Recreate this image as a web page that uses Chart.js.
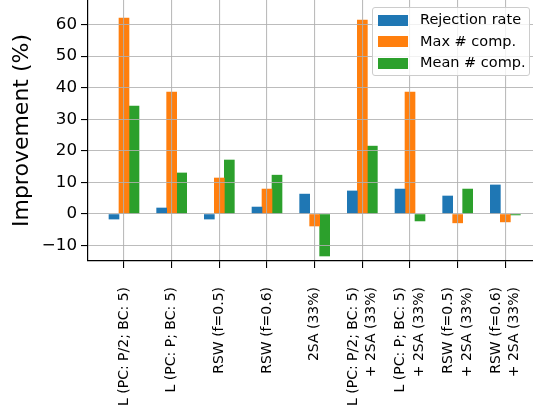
<!DOCTYPE html>
<html>
<head>
<meta charset="utf-8">
<script src="https://cdn.jsdelivr.net/npm/chart.js@4"></script>
<style>
body{margin:0;background:#fff;}
#wrap{position:relative;width:533px;height:415px;}
#legend{position:absolute;left:372px;top:7px;width:156px;height:67px;background:rgba(255,255,255,0.8);border:1px solid #cccccc;border-radius:3px;font-family:"DejaVu Sans";font-size:14.5px;color:#000;}
.item{position:absolute;left:5px;height:22px;line-height:22px;white-space:nowrap;}
.sw{display:inline-block;width:30px;height:11px;vertical-align:middle;margin-right:12px;}
</style>
</head>
<body>
<div id="wrap">
<canvas id="chart"></canvas>
<div id="legend"></div>
</div>
<script>
const categories = [
'L (PC: P/2; BC: 5)',
'L (PC: P; BC: 5)',
'RSW (f=0.5)',
'RSW (f=0.6)',
'2SA (33%)',
'L (PC: P/2; BC: 5)\n+ 2SA (33%)',
'L (PC: P; BC: 5)\n+ 2SA (33%)',
'RSW (f=0.5)\n+ 2SA (33%)',
'RSW (f=0.6)\n+ 2SA (33%)'
];

const seriesNames = ['Rejection rate','Max # comp.','Mean # comp.'];
const rejectionRate = [-1.6, 1.9, -1.6, 2.2, 6.3, 7.3, 7.9, 5.7, 9.2];
const maxComp = [62.1, 38.6, 11.4, 7.9, -3.8, 61.4, 38.6, -2.8, -2.5];
const meanComp = [34.2, 13.0, 17.1, 12.3, -13.3, 21.5, -2.2, 7.9, -0.3];
const yTicks = [-10, 0, 10, 20, 30, 40, 50, 60];

const colors = ['#1f77b4','#ff7f0e','#2ca02c'];
const font = '"DejaVu Sans"';

function points(vals){
return vals.map((v,i) => ({x:i, y:v}));
}

const allSeries = [rejectionRate, maxComp, meanComp];

const datasets = allSeries.map((vals,k) => ({
label: seriesNames[k],
data: points(vals),
backgroundColor: colors[k],
borderWidth: 0,
barThickness: 10
}));

// legend drawn as html box over the plot
const legend = document.getElementById('legend');
seriesNames.forEach((name,k) => {
const d = document.createElement('div');
d.className = 'item';
d.style.top = (k*21.5) + 'px';
d.innerHTML = '<span class="sw" style="background:'+colors[k]+'"></span>';
d.appendChild(document.createTextNode(name));
legend.appendChild(d);
});

// category labels: rotated, multi-line blocks centred on the tick
const xLabels = {
id:'xLabels',
afterDraw(chart){
const s = chart.scales.x;
const ctx = chart.ctx;
const lh = 18.5;
ctx.save();
ctx.font = '14px ' + font;
ctx.fillStyle = '#000';
ctx.textAlign = 'right';
ctx.textBaseline = 'middle';
categories.forEach((c,i) => {
const lines = c.split('\n');
const x0 = s.getPixelForValue(i) - (lines.length-1)*lh/2;
lines.forEach((t,j) => {
ctx.save();
ctx.translate(x0 + j*lh, s.top + 26);
ctx.rotate(-Math.PI/2);
ctx.fillText(t, 0, 0);
ctx.restore();
});
});
ctx.restore();
}
};

new Chart(document.getElementById('chart'),{
type:'bar',
data:{ datasets: datasets },
plugins:[xLabels],
options:{
responsive:true,
maintainAspectRatio:false,
animation:false,
devicePixelRatio:1,
layout:{ padding:0 },
plugins:{
legend:{ display:false },
tooltip:{ enabled:false }
},
scales:{
x:{
type:'linear',
min:-0.755,
max:8.58,
offset:false,
grid:{
offset:false,
z:1,
color:'rgba(176,176,176,0.85)',
lineWidth:1.1,
tickColor:'#000',
tickLength:7
},
border:{ color:'#000', width:1.2, z:2 },
afterBuildTicks:(s) => { s.ticks = categories.map((c,i) => ({value:i})); },
ticks:{ display:false },
afterFit:(s) => { s.height = 154; s.paddingLeft = 0; s.paddingRight = 0; }
},
y:{
min:-14.89,
max:67.79,
grid:{
z:1,
color:'rgba(176,176,176,0.85)',
lineWidth:1.1,
tickColor:'#000',
tickLength:7
},
border:{ color:'#000', width:1.2, z:2 },
afterBuildTicks:(s) => { s.ticks = yTicks.map(v => ({value:v})); },
ticks:{
padding:4,
color:'#000',
font:{ family:font, size:16.7 },
callback:(v) => v < 0 ? '\u2212' + Math.abs(v) : String(v)
},
title:{
display:true,
text:'Improvement (%)',
color:'#000',
font:{ family:font, size:22 },
padding:{ top:9, bottom:0 }
},
afterFit:(s) => { s.width = 88; s.paddingTop = 0; s.paddingBottom = 0; }
}
}
}
});
</script>
</body>
</html>
